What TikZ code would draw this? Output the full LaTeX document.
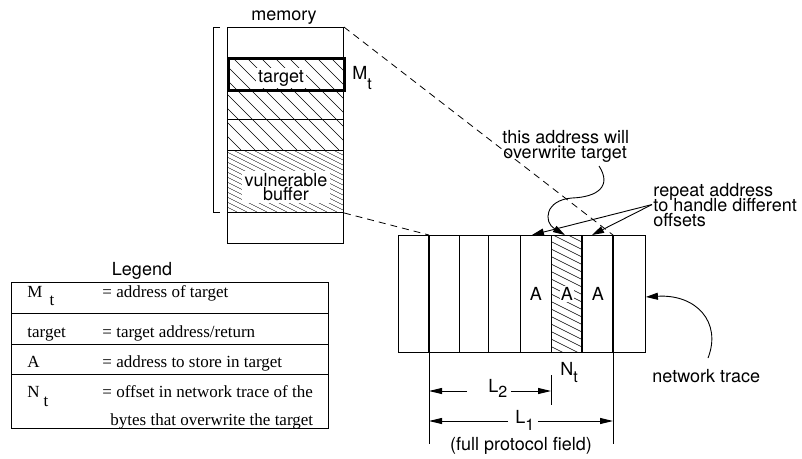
\documentclass[tikz,border=0pt]{standalone}
\usepackage{fontspec}
\setmainfont{Liberation Serif}
\newfontfamily\helv{TeX Gyre Heros}
\usetikzlibrary{arrows.meta,calc}
\newcommand{\subsc}[2]{\raisebox{#1}{\fontsize{16}{16}\selectfont #2}}
\begin{document}
\begin{tikzpicture}[x=1pt,y=-1pt,line width=0.9pt,
  lbl/.style={font=\helv\fontsize{18}{18}\selectfont,inner sep=0pt},
  leg/.style={font=\fontsize{17}{17}\selectfont,inner sep=0pt,anchor=base west},
  mcell/.style={draw,rectangle,inner sep=0pt,minimum width=116pt,minimum height=#1,anchor=north west},
  tcell/.style={draw,rectangle,inner sep=0pt,minimum width=#1,minimum height=117pt,anchor=north west},
  lrow/.style={draw,rectangle,inner sep=0pt,minimum width=317pt,minimum height=#1,anchor=north west},
  heavy/.style={line width=2.6pt},
  hatch/.style={line width=0.6pt},
  dline/.style={dash pattern=on 7pt off 5pt,line width=0.8pt},
  arr/.style={-{Triangle[length=12pt,width=7pt]}},
  dimarr/.style={-{Triangle[length=13pt,width=6pt]}},
]
\useasboundingbox (0,0) rectangle (802,458);

% ---------- hatching ----------
\begin{scope}
  \clip (227,57) rectangle (343,150);
  \foreach \x in {134,148,...,344} \draw[hatch] (\x,57) -- ++(93,93);
\end{scope}
\begin{scope}
  \clip (227,150) rectangle (343,212);
  \foreach \x in {103,113,...,343} \draw[hatch,line width=0.4pt] (\x,150) -- ++(124,62);
\end{scope}
\begin{scope}
  \clip (551,235) rectangle (582,352);
  \foreach \y in {219,226.5,...,352} \draw[hatch] (551,\y) -- ++(31,15.5);
\end{scope}

% ---------- memory column ----------
\node[lbl,anchor=base] (memlbl) at (284,20) {memory};
\node[mcell=30pt] (mem0) at (227,27) {};
\node[mcell=30pt] (mh1) at (227,89) {};
\node[mcell=31pt] (mh2) at (227,119) {};
\node[mcell=62pt] (vb) at (227,150) {};
\node[mcell=31pt] (mem5) at (227,212) {};
\node[lbl,fill=white,inner sep=2pt,anchor=base] (tgttxt) at (281,82) {target};
\node[mcell=32pt,heavy] (tgt) at (227,57) {};
\node[lbl,fill=white,inner sep=3pt,align=center,
      font=\helv\fontsize{18}{13.5}\selectfont] (vbtxt) at (286,187) {vulnerable\\buffer};
\node[lbl,anchor=base west] (Mt) at (352,79) {M\subsc{-10pt}{t}};
\draw ([xshift=-7pt]mem0.north west) -- ++(-7,0) |- ([xshift=-7pt]vb.south west);

% ---------- network trace ----------
\node[tcell=31pt] (c1) at (398,235) {};
\node[tcell=30pt] (c2) at (429,235) {};
\node[tcell=29pt] (c3) at (459,235) {};
\node[tcell=32pt] (c4) at (488,235) {};
\node[tcell=31pt] (c5) at (520,235) {};
\node[tcell=31pt] (c6) at (551,235) {};
\node[tcell=31pt] (c7) at (582,235) {};
\node[tcell=32pt] (c8) at (613,235) {};
\draw[heavy] (c2.north west) -- (c2.south west);
\draw[heavy] (c7.north west) -- (c7.south west);
\draw[heavy] (c8.north west) -- (c8.south west);
\node[lbl] (A1) at (c5.center) {A};
\node[lbl,fill=white,inner sep=1pt] (A2) at (c6.center) {A};
\node[lbl] (A3) at (c7.center) {A};

% dashed projection lines
\draw[dline] (mem0.north east) -- (c8.north west);
\draw[dline] (vb.south east) -- (c2.north west);

% ---------- annotations ----------
\node[lbl,anchor=base west] (this1) at (502,143) {this address will};
\node[lbl,anchor=base west] (this2) at (503,158) {overwrite target};
\coordinate (cs) at (599,166);
\draw[arr] (cs) .. controls (612,186) and (598,197) .. (572,198)
           .. controls (545,200) and (543,222) .. ([xshift=-2pt]c6.north);

\node[lbl,anchor=base west] (rep1) at (653,196) {repeat address};
\node[lbl,anchor=base west] (rep2) at (653,211) {to handle different};
\node[lbl,anchor=base west] (rep3) at (653,226) {offsets};
\coordinate (ra) at ([xshift=-1pt]rep2.west);
\draw[arr] (ra) -- ([xshift=-4pt]c5.north);
\draw[arr] (ra) -- ([xshift=-6pt]c7.north);

\node[lbl,anchor=base west] (ntl) at (652,382) {network trace};
\coordinate (ns) at (708,358);
\draw[arr] (ns) .. controls (722,322) and (696,294) .. ([yshift=-3pt]c8.east);

% ---------- dimensions ----------
\coordinate (e1) at ($(c2.south west)+(0,91)$);
\coordinate (e2) at ($(c8.south west)+(0,91)$);
\draw (c2.south west) -- (e1);
\draw (c8.south west) -- (e2);
\coordinate (tk1) at (551,375);
\coordinate (tk2) at (551,405);
\draw (tk1) -- (tk2);
\node[lbl,anchor=base west] (L2) at (488,392) {L\subsc{-5pt}{2}};
\node[lbl,anchor=base west] (Nt) at (560,375) {N\subsc{-7pt}{t}};
\coordinate (l2a) at ($(L2.base west)+(-21,-1)$);
\coordinate (l2b) at ($(L2.base east)+(3,-1)$);
\draw[dimarr] (l2a) -- (c2.south west |- l2a);
\draw[dimarr] (l2b) -- (tk1 |- l2b);

\node[lbl,anchor=base west] (L1) at (515,423) {L\subsc{-7pt}{1}};
\coordinate (l1a) at ($(L1.base west)+(-7,-2)$);
\coordinate (l1b) at ($(L1.base east)+(3,-2)$);
\draw[dimarr] (l1a) -- (c2.south west |- l1a);
\draw[dimarr] (l1b) -- (c8.south west |- l1b);
\node[lbl,anchor=base] (fpf) at (521,450) {(full protocol field)};

% ---------- legend ----------
\node[lbl,anchor=base] (leghead) at (142,275) {Legend};
\node[lrow=31pt] (r1) at (11,282) {};
\node[lrow=31pt] (r2) at (11,313) {};
\node[lrow=30pt] (r3) at (11,344) {};
\node[lrow=54pt] (r4) at (11,374) {};
\node[leg] (k1) at (27,297) {M\hspace{7pt}\raisebox{-8pt}{t}};
\node[leg] (v1) at (102,297) {= address of target};
\node[leg] (k2) at (27,337) {target};
\node[leg] (v2) at (102,337) {= target address/return};
\node[leg] (k3) at (27,367) {A};
\node[leg] (v3) at (102,367) {= address to store in target};
\node[leg] (k4) at (27,397) {N\hspace{4pt}\raisebox{-9pt}{t}};
\node[leg] (v4) at (102,397) {= offset in network trace of the};
\node[leg] (v4b) at (110,425) {bytes that overwrite the target};
\end{tikzpicture}
\end{document}
